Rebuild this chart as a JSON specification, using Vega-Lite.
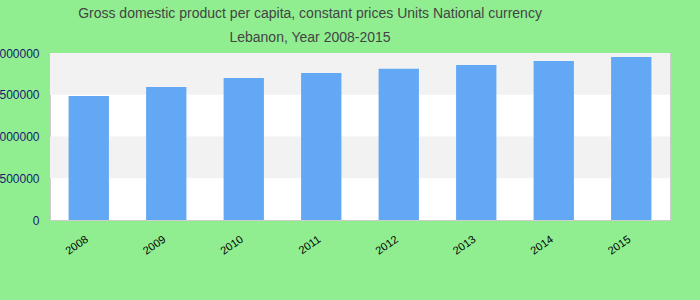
{
  "$schema": "https://vega.github.io/schema/vega-lite/v6.json",
  "autosize": "none",
  "width": 620,
  "height": 167,
  "padding": {"left": 50, "top": 53, "right": 30, "bottom": 80},
  "background": "#90ee90",
  "title": {
    "text": ["Gross domestic product per capita, constant prices Units National currency", "Lebanon, Year 2008-2015"],
    "anchor": "middle",
    "dx": -50,
    "offset": 2,
    "font": "Liberation Sans",
    "fontSize": 14,
    "fontWeight": "normal",
    "color": "#444444",
    "lineHeight": 24
  },
  "config": {
    "view": {"stroke": "#cccccc", "strokeWidth": 1, "fill": "#ffffff"},
    "axis": {"labelFont": "Liberation Sans", "grid": false, "domain": false, "ticks": false}
  },
  "layer": [
    {
      "data": {"values": [{"lo": 500000, "hi": 1000000}, {"lo": 1500000, "hi": 2000000}]},
      "mark": {"type": "rect", "color": "#f2f2f2"},
      "encoding": {
        "y": {"field": "lo", "type": "quantitative", "scale": {"domain": [0, 2000000]}},
        "y2": {"field": "hi"}
      }
    },
    {
      "data": {"values": [
        {"year": "2008", "value": 1485000},
        {"year": "2009", "value": 1593000},
        {"year": "2010", "value": 1700000},
        {"year": "2011", "value": 1760000},
        {"year": "2012", "value": 1810000},
        {"year": "2013", "value": 1856000},
        {"year": "2014", "value": 1904000},
        {"year": "2015", "value": 1952000}
      ]},
      "mark": {"type": "bar", "color": "#62a8f5"},
      "encoding": {
        "x": {
          "field": "year", "type": "nominal", "title": null,
          "scale": {"paddingInner": 0.48, "paddingOuter": 0.24},
          "axis": {"labelAngle": -35, "labelFontSize": 11, "labelColor": "#000000", "labelPadding": 13, "labelOffset": -5}
        },
        "y": {
          "field": "value", "type": "quantitative", "title": null,
          "scale": {"domain": [0, 2000000], "nice": false},
          "axis": {"values": [0, 500000, 1000000, 1500000, 2000000], "format": "d", "labelFontSize": 12, "labelColor": "#191970", "labelPadding": 11}
        }
      }
    }
  ]
}
